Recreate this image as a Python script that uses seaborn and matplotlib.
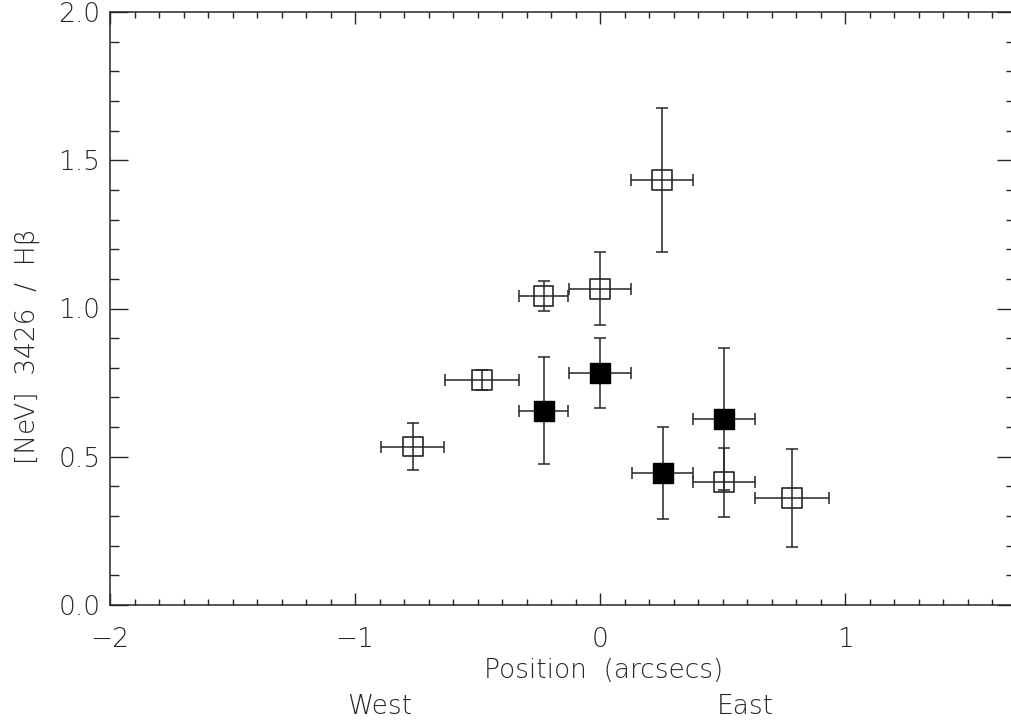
import numpy as np
import pandas as pd
import seaborn as sns
import matplotlib
matplotlib.use("Agg")
import matplotlib.pyplot as plt
from matplotlib.ticker import MultipleLocator

# Line ratio measurements along the slit
pos_open = [-0.765, -0.482, -0.231, 0.0, 0.251, 0.504, 0.783]
ratio_open = [0.534, 0.759, 1.043, 1.066, 1.433, 0.414, 0.360]
xerr_open = [0.128, 0.151, 0.100, 0.126, 0.126, 0.127, 0.152]
yerr_open = [0.079, 0.033, 0.050, 0.123, 0.242, 0.117, 0.165]

pos_filled = [-0.231, 0.0, 0.254, 0.504]
ratio_filled = [0.655, 0.782, 0.446, 0.627]
xerr_filled = [0.100, 0.126, 0.126, 0.127]
yerr_filled = [0.181, 0.118, 0.155, 0.240]

x_ticks = [-2, -1, 0, 1]
x_tick_labels = ["\u22122", "\u22121", "0", "1"]
y_ticks = [0.0, 0.5, 1.0, 1.5, 2.0]
y_tick_labels = ["0.0", "0.5", "1.0", "1.5", "2.0"]

sns.set_theme(style="ticks")
plt.rcParams["font.family"] = ["DejaVu Sans"]
plt.rcParams["font.weight"] = "light"

ink = "#262626"
fs = 19

df = pd.concat([
    pd.DataFrame({"pos": pos_open, "ratio": ratio_open, "xerr": xerr_open,
                  "yerr": yerr_open, "kind": "open"}),
    pd.DataFrame({"pos": pos_filled, "ratio": ratio_filled, "xerr": xerr_filled,
                  "yerr": yerr_filled, "kind": "filled"}),
], ignore_index=True)

fig = plt.figure(figsize=(10.11, 7.2), dpi=100)
ax = fig.add_axes([110 / 1011, 115 / 720, (1015 - 110) / 1011, (605 - 12) / 720])

# Error bars first, markers on top
for kind, sub in df.groupby("kind"):
    ax.errorbar(sub["pos"], sub["ratio"], xerr=sub["xerr"], yerr=sub["yerr"],
                fmt="none", ecolor=ink, elinewidth=1.1, capsize=4.3,
                capthick=1.1, zorder=2)

sns.scatterplot(data=df[df["kind"] == "open"], x="pos", y="ratio", ax=ax,
                marker="s", s=200, facecolor="none", edgecolor=ink,
                linewidth=1.2, zorder=3, legend=False)
sns.scatterplot(data=df[df["kind"] == "filled"], x="pos", y="ratio", ax=ax,
                marker="s", s=200, color="black", edgecolor="black",
                linewidth=1.0, zorder=4, legend=False)

ax.set_xlim(-2, 1.692)
ax.set_ylim(0, 2.0)

ax.set_xticks(x_ticks)
ax.set_xticklabels(x_tick_labels)
ax.set_yticks(y_ticks)
ax.set_yticklabels(y_tick_labels)
ax.xaxis.set_minor_locator(MultipleLocator(0.1))
ax.yaxis.set_minor_locator(MultipleLocator(0.1))

ax.tick_params(axis="x", which="major", direction="in", length=8.6, width=1.0,
               top=True, bottom=True, pad=16, labelsize=fs, colors=ink)
ax.tick_params(axis="x", which="minor", direction="in", length=4.2, width=1.0,
               top=True, bottom=True, colors=ink)
ax.tick_params(axis="y", which="major", direction="in", length=13, width=1.0,
               left=True, right=True, pad=7, labelsize=fs, colors=ink)
ax.tick_params(axis="y", which="minor", direction="in", length=6.3, width=1.0,
               left=True, right=True, colors=ink)

for side in ["left", "bottom", "top", "right"]:
    ax.spines[side].set_visible(True)
    ax.spines[side].set_linewidth(1.1)
    ax.spines[side].set_color(ink)

ax.set_xlabel("")
ax.set_ylabel("")

fig.text(604 / 1011, 1 - 671 / 720, "Position  (arcsecs)", ha="center",
         va="center", fontsize=fs, color=ink)
fig.text(380 / 1011, 1 - 707 / 720, "West", ha="center", va="center",
         fontsize=fs, color=ink)
fig.text(745 / 1011, 1 - 707 / 720, "East", ha="center", va="center",
         fontsize=fs, color=ink)
fig.text(27 / 1011, 1 - 346 / 720, "[NeV]  3426  /  H\u03b2", ha="center",
         va="center", rotation=90, fontsize=fs, color=ink)

fig.savefig("out.png", dpi=100, facecolor="white")
